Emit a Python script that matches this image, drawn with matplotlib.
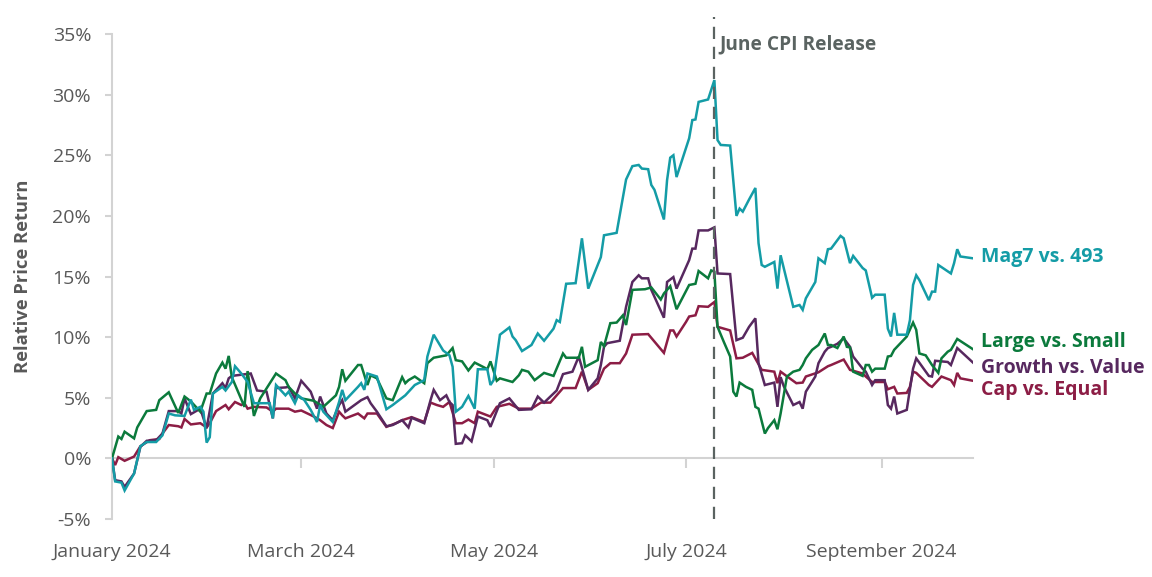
import matplotlib
matplotlib.use("Agg")
import matplotlib.pyplot as plt
import matplotlib.dates as mdates
from matplotlib.ticker import FuncFormatter
import pandas as pd

# ---------------- data (day offsets since 2024-01-01, relative return in %) ----------------
mag7_days = [0,1,3,4,7,9,11,14,16,18,20,23,25,26,28,29,30,31,32,35,36,38,39,41,43,45,50,51,52,55,56,58,59,61,63,65,66,67,70,72,73,74,78,79,80,81,84,87,89,91,93,96,99,100,102,105,107,108,109,111,113,115,116,119,120,121,123,126,127,128,130,133,135,137,140,141,142,144,147,149,151,155,156,160,163,165,167,168,170,171,172,175,176,177,178,179,183,184,185,186,189,191,192,193,196,198,199,200,202,204,205,206,207,210,211,212,216,218,219,220,223,224,226,227,228,231,232,234,235,238,239,241,242,245,246,247,248,249,252,253,254,255,256,259,260,261,262,266,267,268,269,273]
mag7_vals = [0,-1.9,-2.0,-2.65,-1.25,1.0,1.35,1.35,1.9,3.7,3.55,3.5,4.85,4.0,4.25,3.85,1.3,1.75,5.35,5.9,5.6,6.3,7.6,7.0,6.3,4.55,4.55,3.3,6.05,5.2,5.5,4.55,5.2,4.8,4.0,3.0,4.4,3.85,3.0,4.65,5.65,4.8,5.9,6.2,5.65,7.0,6.75,4.05,4.4,4.8,5.2,6.05,6.45,8.4,10.2,8.9,8.5,7.55,3.85,4.25,5.15,4.1,7.35,7.35,6.05,6.45,10.2,10.8,10.05,9.75,8.85,9.35,10.3,9.7,10.7,11.4,11.25,14.4,14.45,18.15,14.0,16.6,18.4,18.6,23.0,24.1,24.2,23.9,23.85,22.55,22.15,19.7,22.95,24.8,25.0,23.2,26.4,27.9,27.95,29.4,29.6,31.2,26.25,25.85,25.8,20.0,20.6,20.35,21.35,22.3,17.75,15.95,15.8,16.2,14.0,16.75,12.5,12.65,12.25,13.2,14.55,16.5,16.1,17.25,17.3,18.35,18.15,16.1,16.7,15.7,15.5,13.25,13.5,13.5,10.7,10.05,12.0,10.2,10.2,11.4,14.3,15.1,14.7,13.05,13.75,13.75,15.95,15.25,16.1,17.25,16.65,16.5]

large_days = [0,2,3,4,7,8,11,14,15,18,21,23,25,28,30,31,33,35,36,37,38,42,43,45,47,52,55,56,58,60,64,67,71,72,73,74,78,79,81,82,84,87,89,92,93,94,96,99,100,102,106,108,109,111,113,115,118,119,120,122,123,127,129,130,132,134,137,140,143,144,148,149,150,154,155,156,158,160,162,163,165,169,171,174,175,177,179,183,185,186,189,190,191,192,194,196,197,198,199,201,203,204,205,207,208,210,211,212,214,216,218,219,220,222,224,226,227,228,230,232,233,234,235,238,239,240,241,242,245,246,247,248,252,254,255,256,258,260,262,263,265,266,268,273]
large_vals = [0,1.8,1.6,2.2,1.65,2.55,3.9,4.0,4.8,5.45,3.75,5.1,4.7,3.85,5.35,5.35,7.0,7.9,7.4,8.45,6.7,4.25,7.2,3.5,4.95,7.0,6.45,5.9,5.35,4.95,4.75,4.25,5.2,5.9,7.35,6.4,7.7,7.7,6.05,6.85,6.6,4.95,4.8,6.7,6.2,6.45,6.75,6.2,7.85,8.3,8.5,9.1,8.1,8.0,7.25,7.9,7.5,7.35,8.0,6.4,6.6,6.3,6.85,7.3,7.15,6.45,7.05,6.8,8.65,8.3,8.3,9.2,7.55,8.1,9.6,9.25,11.15,11.2,11.8,11.0,13.9,13.95,14.1,13.1,13.6,14.2,12.3,14.3,14.4,15.45,14.85,15.5,15.4,10.85,9.6,8.4,5.5,5.1,6.25,5.9,5.65,4.25,4.1,2.05,2.5,3.15,2.4,3.7,6.75,7.15,7.3,7.7,8.25,8.95,9.35,10.3,9.35,9.35,9.1,10.05,9.2,9.15,7.15,6.8,7.7,7.7,7.15,7.4,7.4,8.4,8.45,8.95,10.05,11.2,10.6,8.65,8.5,7.7,7.05,8.25,8.8,8.95,9.85,9.0]

growth_days = [0,1,3,4,7,9,11,14,16,18,21,22,23,25,28,30,32,35,36,37,38,44,46,49,51,52,55,56,58,60,63,65,66,68,70,72,73,74,79,81,82,84,87,89,92,93,94,95,99,101,102,104,106,107,108,109,111,112,114,116,119,120,123,126,129,133,135,137,141,143,146,148,151,154,155,156,157,161,163,165,167,168,170,171,175,176,178,179,183,184,185,186,189,191,192,196,198,200,202,204,205,207,210,211,212,213,216,218,219,220,223,224,226,227,228,230,232,234,235,238,239,241,242,245,246,247,248,249,252,254,255,259,260,261,265,266,268,273]
growth_vals = [0,-1.8,-1.9,-2.35,-1.25,0.95,1.45,1.5,2.05,3.9,3.9,3.7,4.95,3.65,4.1,2.5,5.35,6.2,5.8,6.6,6.8,7.0,5.6,5.5,3.3,5.8,5.85,5.9,4.95,6.4,5.5,4.1,5.1,3.7,3.15,4.4,4.8,3.85,4.8,5.05,4.55,3.85,2.65,2.75,3.15,2.85,2.55,3.35,2.9,4.8,5.65,4.8,5.2,4.65,4.4,1.2,1.25,1.9,1.4,3.45,3.15,2.6,4.55,4.95,4.0,4.05,5.1,4.6,5.6,6.95,7.15,8.4,5.65,6.6,7.7,9.2,9.5,9.7,12.5,14.55,15.1,14.85,14.85,13.9,11.6,14.55,14.95,14.0,16.35,17.3,17.3,18.8,18.8,19.05,15.25,15.2,9.75,9.95,10.85,11.55,7.85,6.05,6.25,4.25,6.7,5.95,4.4,4.65,4.1,5.5,6.75,7.85,8.8,9.1,9.2,9.45,9.9,9.2,8.4,7.4,7.15,6.05,6.45,6.45,4.4,4.1,5.1,3.7,4.0,7.4,8.25,6.8,6.75,8.05,7.95,7.7,9.1,7.9]

cap_days = [0,1,2,4,7,9,12,15,16,18,21,22,23,25,28,30,31,33,36,37,39,41,42,43,45,49,51,52,55,56,58,60,64,66,68,70,72,73,74,78,80,81,84,87,90,92,95,99,101,103,105,107,109,111,113,115,116,120,122,126,129,133,136,139,143,147,149,151,154,156,158,161,163,165,170,175,177,178,179,182,183,185,186,189,191,192,196,198,200,203,206,210,211,212,217,219,220,224,227,228,232,234,238,239,241,245,246,248,249,252,253,254,255,259,260,263,266,267,268,269,273]
cap_vals = [0,-0.55,0.1,-0.2,0.15,1.0,1.5,1.6,2.05,2.75,2.65,2.55,3.25,2.8,2.9,2.55,2.9,3.9,4.4,4.05,4.65,4.4,4.55,4.1,4.25,4.2,3.85,4.1,4.1,4.1,3.85,3.95,3.45,3.15,2.75,2.5,3.85,3.55,3.3,3.7,3.3,3.7,3.7,2.6,2.9,3.15,3.4,3.0,4.6,4.4,4.25,4.65,2.9,2.9,3.2,2.9,3.85,3.45,4.25,4.5,4.1,4.1,4.6,4.6,5.8,5.8,7.15,5.65,6.2,7.4,7.85,7.85,8.65,10.2,10.25,8.7,10.55,10.55,10.05,11.25,11.7,11.8,12.55,12.5,12.9,10.85,10.55,8.25,8.3,8.7,7.3,7.15,6.2,7.15,6.2,6.25,6.75,7.1,7.6,7.7,8.15,7.3,7.0,6.75,6.3,6.3,5.7,5.9,5.35,5.4,5.9,7.15,7.05,6.05,5.9,6.75,6.45,6.05,7.05,6.6,6.4]

series_names = ["Cap vs. Equal", "Growth vs. Value", "Large vs. Small", "Mag7 vs. 493"]
series_days = [cap_days, growth_days, large_days, mag7_days]
series_vals = [cap_vals, growth_vals, large_vals, mag7_vals]
series_colors = ["#8c1d45", "#57285f", "#0b7a3c", "#149ca6"]
label_y = [5.6, 7.45, 9.6, 16.6]   # vertical position of the end labels (%)

start = pd.Timestamp("2024-01-01")
end = pd.Timestamp("2024-09-30")
event_date = pd.Timestamp("2024-07-10")
event_label = "June CPI Release"
y_ticks = [-5, 0, 5, 10, 15, 20, 25, 30, 35]
x_tick_months = [1, 3, 5, 7, 9]

# ---------------- figure ----------------
FONT = "Open Sans"
GRAY_TXT = "#595959"
AX_GRAY = "#d3d3d3"
EVENT_GRAY = "#5a6361"

fig = plt.figure(figsize=(11.52, 5.77), dpi=100)
ax = fig.add_axes([112/1152, 1 - 519/577, (973-112)/1152, (519-34)/577])

for name, d, v, c, ly in zip(series_names, series_days, series_vals, series_colors, label_y):
    dates = start + pd.to_timedelta(d, unit="D")
    ax.plot(dates, v, color=c, lw=1.8, solid_joinstyle="miter", zorder=3)
    ax.annotate(name, xy=(mdates.date2num(end), ly), xytext=(8, 0), textcoords="offset pixels",
                ha="left", va="center", color=c, fontsize=14, fontweight="bold",
                family=FONT, annotation_clip=False)

ax.set_xlim(start, end)
ax.set_ylim(y_ticks[0], y_ticks[-1])
ax.set_yticks(y_ticks)
ax.yaxis.set_major_formatter(FuncFormatter(lambda v, p: f"{v:.0f}%"))

for s in ["top", "right", "bottom"]:
    ax.spines[s].set_visible(False)
ax.spines["left"].set_color(AX_GRAY)
ax.spines["left"].set_linewidth(1.5)
ax.tick_params(axis="y", colors=AX_GRAY, length=5, width=1.5, labelcolor=GRAY_TXT,
               labelsize=14, pad=10)

ax.xaxis.set_major_locator(mdates.MonthLocator(bymonth=x_tick_months))
ax.xaxis.set_major_formatter(mdates.DateFormatter("%B %Y"))
ax.tick_params(axis="x", length=0, labelcolor=GRAY_TXT, labelsize=14, pad=17)
for lab in ax.get_xticklabels() + ax.get_yticklabels():
    lab.set_family(FONT)

# zero line with month ticks
zero_frac = (0 - y_ticks[0]) / (y_ticks[-1] - y_ticks[0])
sec = ax.secondary_xaxis(zero_frac)
sec.xaxis.set_major_locator(mdates.MonthLocator(bymonth=x_tick_months))
sec.tick_params(axis="x", colors=AX_GRAY, length=7, width=1.5, labelbottom=False)
sec.spines["bottom"].set_color(AX_GRAY)
sec.spines["bottom"].set_linewidth(1.5)

# event line
ax.axvline(event_date, ymin=0, ymax=1.036, color=EVENT_GRAY, lw=1.6,
           dashes=(5.5, 3.5), clip_on=False, zorder=4)
ax.annotate(event_label, xy=(mdates.date2num(event_date), 0.978),
            xycoords=ax.get_xaxis_transform(),
            xytext=(5, 0), textcoords="offset pixels",
            ha="left", va="center", color=EVENT_GRAY, fontsize=13.8, fontweight="bold",
            family=FONT)

ax.set_ylabel("Relative Price Return", color=GRAY_TXT, fontsize=13.2, fontweight="bold",
              family=FONT, labelpad=15)

fig.savefig("out.png", dpi=100)
